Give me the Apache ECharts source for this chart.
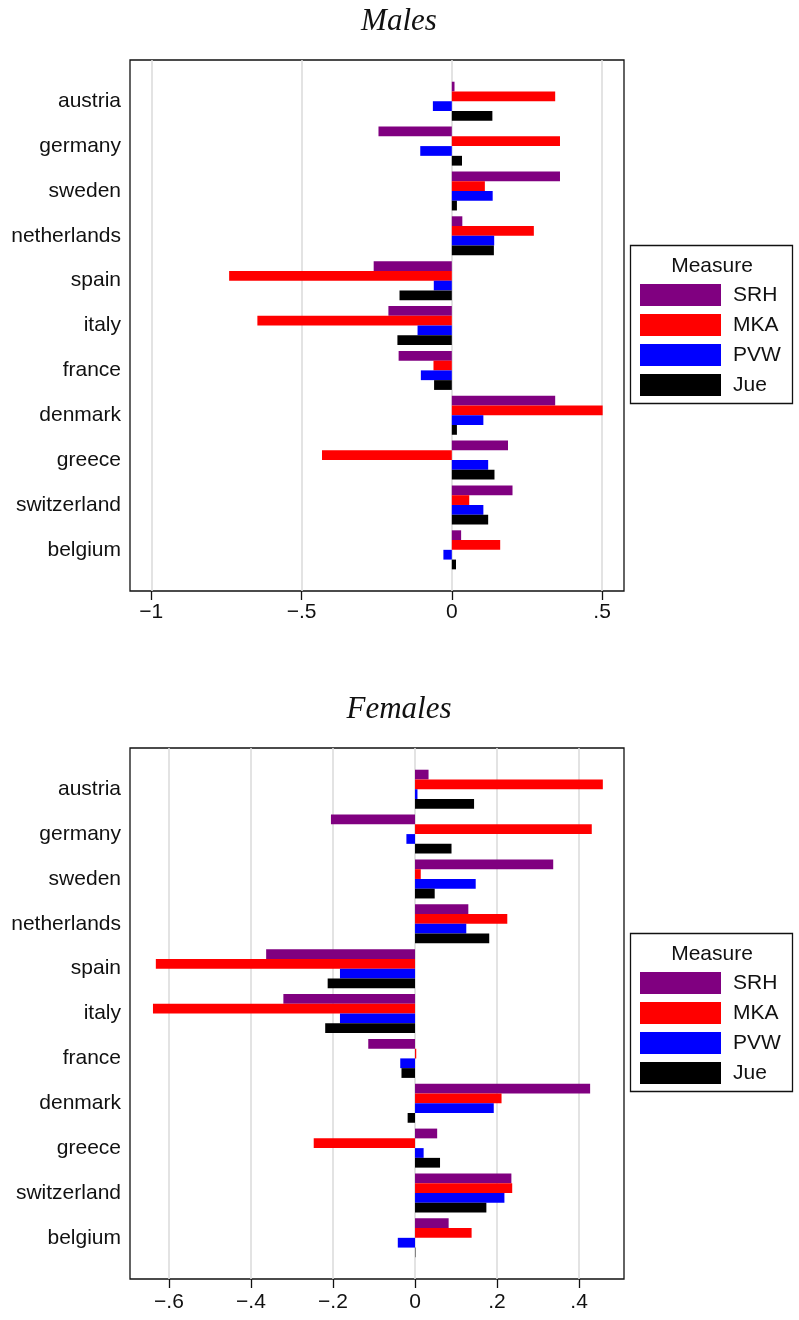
<!DOCTYPE html>
<html>
<head>
<meta charset="utf-8">
<script src="https://cdn.jsdelivr.net/npm/echarts@6/dist/echarts.min.js"></script>
<style>
html,body{margin:0;padding:0;background:#fff;}
#chart{width:799px;height:1320px;}
</style>
</head>
<body>
<div id="chart"></div>
<script>
const categories = ['austria','germany','sweden','netherlands','spain','italy','france','denmark','greece','switzerland','belgium'];
const measures = ['SRH','MKA','PVW','Jue'];
const colors = ['#800080','#ff0000','#0000ff','#000000'];

const maleSRH = [0.009,-0.244,0.360,0.035,-0.260,-0.211,-0.177,0.344,0.187,0.202,0.031];
const maleMKA = [0.344,0.360,0.110,0.273,-0.741,-0.647,-0.061,0.502,-0.432,0.058,0.161];
const malePVW = [-0.063,-0.105,0.136,0.141,-0.060,-0.114,-0.103,0.105,0.121,0.105,-0.028];
const maleJue = [0.135,0.034,0.017,0.140,-0.174,-0.181,-0.059,0.017,0.142,0.121,0.014];

const femaleSRH = [0.033,-0.205,0.337,0.130,-0.363,-0.321,-0.114,0.427,0.054,0.235,0.082];
const femaleMKA = [0.458,0.431,0.014,0.225,-0.632,-0.639,0.003,0.211,-0.247,0.237,0.138];
const femalePVW = [0.006,-0.021,0.148,0.125,-0.183,-0.183,-0.036,0.192,0.021,0.218,-0.042];
const femaleJue = [0.144,0.089,0.048,0.181,-0.213,-0.219,-0.033,-0.018,0.061,0.174,0.001];

const maleTicks = [-1,-0.5,0,0.5];
const maleTickLabels = ['\u22121','\u2212.5','0','.5'];
const femaleTicks = [-0.6,-0.4,-0.2,0,0.2,0.4];
const femaleTickLabels = ['\u2212.6','\u2212.4','\u2212.2','0','.2','.4'];

const FONT = "'Liberation Sans', Arial, Helvetica, sans-serif";
const SERIF = "'Liberation Serif', 'Times New Roman', serif";

function fmt(ticks, labels) {
  return function (v) {
    const i = ticks.findIndex(t => Math.abs(t - v) < 1e-9);
    return i >= 0 ? labels[i] : '';
  };
}

const panels = [
  {off: 0, min: -1.0709, max: 0.573, ticks: maleTicks, labels: maleTickLabels, margin: 11,
   data: [maleSRH, maleMKA, malePVW, maleJue]},
  {off: 688, min: -0.695, max: 0.5096, ticks: femaleTicks, labels: femaleTickLabels, margin: 13,
   data: [femaleSRH, femaleMKA, femalePVW, femaleJue]}
];

const grid = [], xAxis = [], yAxis = [], series = [], legend = [], graphic = [];
const bandH = 44.86;
panels.forEach((p, pi) => {
  const frameTop = 60 + p.off;
  const gA = grid.length;
  grid.push({left: 130, top: frameTop, width: 494, height: 531, show: true,
             borderColor: '#111', borderWidth: 1.3, backgroundColor: 'transparent'});
  const gB = grid.length;
  grid.push({left: 130, top: frameTop + 18.8, width: 494, height: 11 * bandH});
  const xA = xAxis.length;
  xAxis.push({type: 'value', gridIndex: gA, min: p.min, max: p.max,
    axisLine: {show: false},
    axisTick: {show: true, customValues: p.ticks, length: 9, lineStyle: {color: '#111', width: 1.3}},
    axisLabel: {show: true, customValues: p.ticks, formatter: fmt(p.ticks, p.labels),
      fontSize: 21, fontFamily: FONT, color: '#111', margin: p.margin},
    splitLine: {show: true, lineStyle: {color: '#dcdcdc', width: 1.6}}
  });
  const xB = xAxis.length;
  xAxis.push({type: 'value', gridIndex: gB, min: p.min, max: p.max, show: false,
    splitLine: {show: false}});
  yAxis.push({type: 'value', gridIndex: gA, show: false, splitLine: {show: false}});
  const yB = yAxis.length;
  yAxis.push({type: 'category', gridIndex: gB, data: categories, inverse: true,
    axisLine: {show: false}, axisTick: {show: false},
    axisLabel: {fontSize: 21, fontFamily: FONT, color: '#111', margin: 9},
    splitLine: {show: false}});
  measures.forEach((m, si) => {
    series.push({type: 'bar', name: m, xAxisIndex: xB, yAxisIndex: yB,
      data: p.data[si], barGap: '0%', barCategoryGap: '13%',
      itemStyle: {color: colors[si]}, animation: false, silent: true});
  });
  legend.push({data: measures, orient: 'vertical', left: 640, top: 284 + p.off,
    itemWidth: 81, itemHeight: 22, itemGap: 8, icon: 'rect', selectedMode: false,
    padding: 0, textStyle: {fontSize: 21, fontFamily: FONT, color: '#111', padding: [0, 0, 0, 7]}});
  graphic.push({type: 'rect', z: -1, shape: {x: 630.5, y: 245.5 + p.off, width: 162, height: 158},
    style: {fill: '#fff', stroke: '#111', lineWidth: 1.3}});
  graphic.push({type: 'text', x: 712, y: 266 + p.off,
    style: {text: 'Measure', font: '21px ' + FONT, fill: '#111', align: 'center', verticalAlign: 'middle'}});
});
graphic.push({type: 'text', x: 399, y: 22,
  style: {text: 'Males', font: 'italic 31px ' + SERIF, fill: '#111', align: 'center', verticalAlign: 'middle'}});
graphic.push({type: 'text', x: 399, y: 710,
  style: {text: 'Females', font: 'italic 31px ' + SERIF, fill: '#111', align: 'center', verticalAlign: 'middle'}});

const chart = echarts.init(document.getElementById('chart'), null, {renderer: 'canvas'});
chart.setOption({
  animation: false,
  backgroundColor: '#fff',
  grid, xAxis, yAxis, series, legend, graphic
});
</script>
</body>
</html>
